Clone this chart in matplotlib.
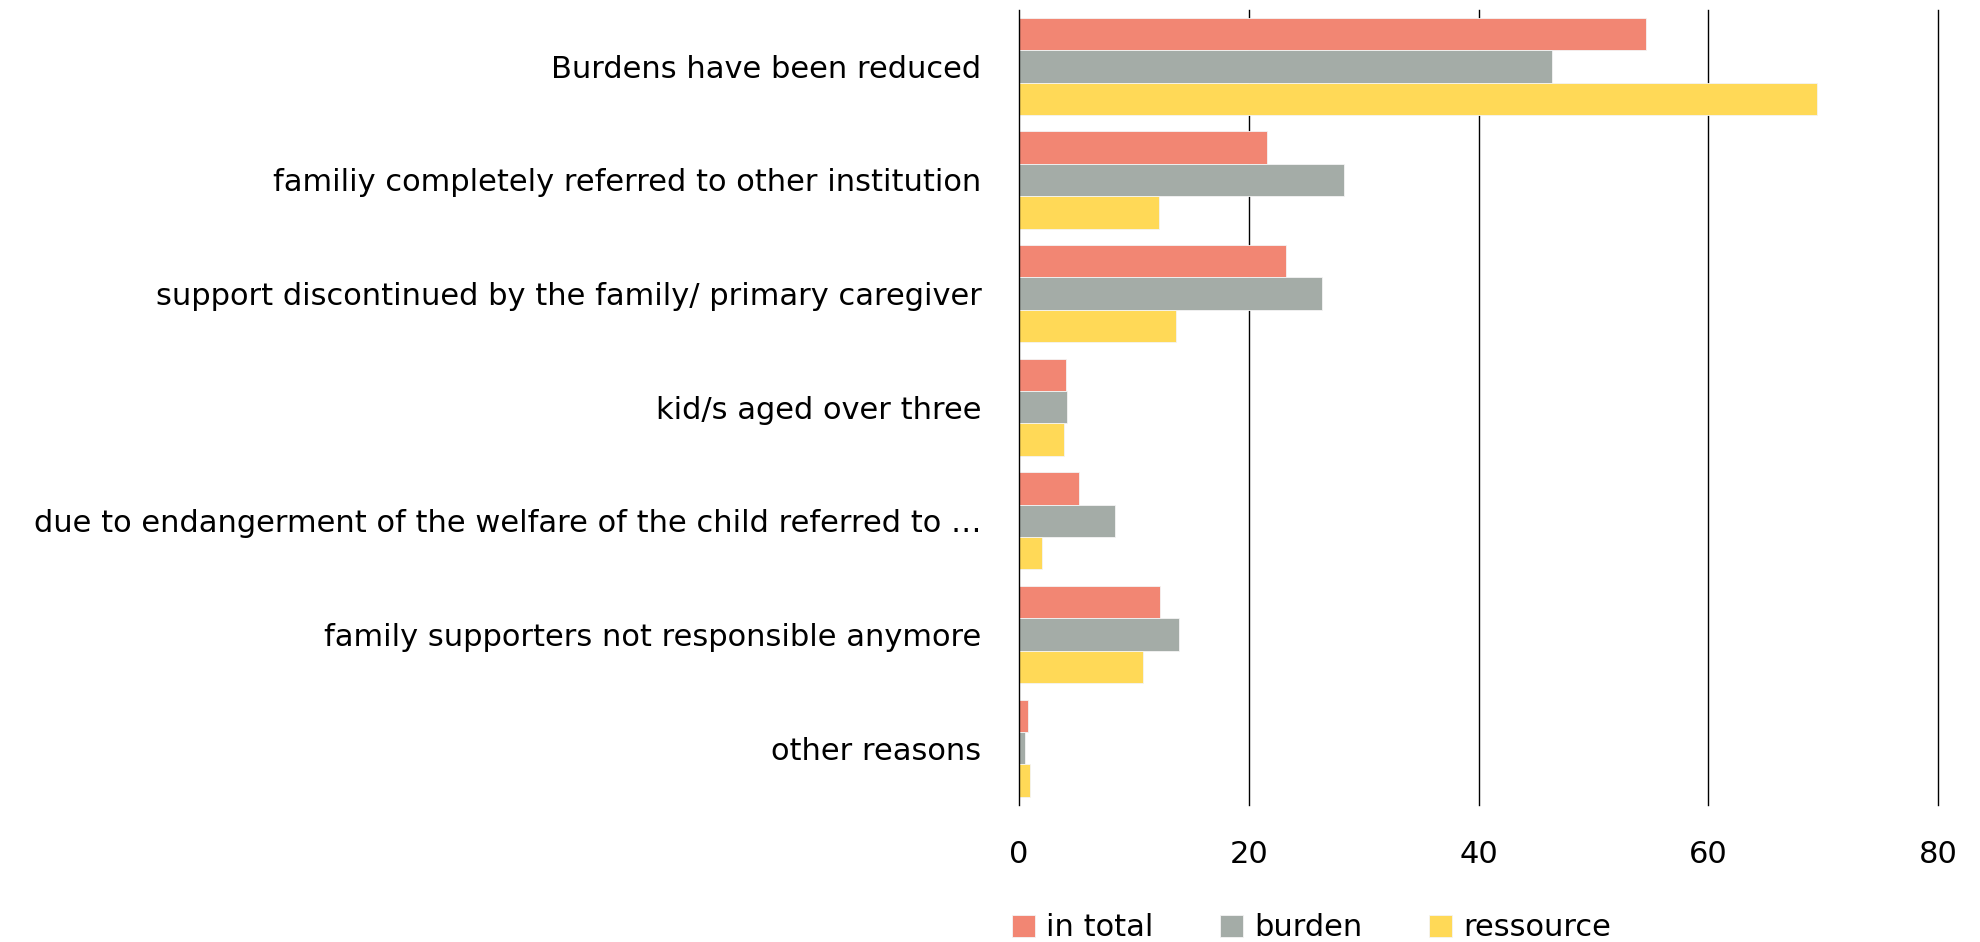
import matplotlib.pyplot as plt
import numpy as np

categories = [
    "Burdens have been reduced",
    "familiy completely referred to other institution",
    "support discontinued by the family/ primary caregiver",
    "kid/s aged over three",
    "due to endangerment of the welfare of the child referred to \u2026",
    "family supporters not responsible anymore",
    "other reasons",
]
in_total = [54.6, 21.6, 23.2, 4.1, 5.2, 12.3, 0.75]
burden = [46.4, 28.3, 26.4, 4.2, 8.4, 13.9, 0.5]
ressource = [69.5, 12.2, 13.7, 3.9, 2.0, 10.8, 1.0]
series_names = ["in total", "burden", "ressource"]
colors = ["#F28673", "#A4ACA7", "#FFD957"]
xticks = [0, 20, 40, 60, 80]

plt.rcParams['font.family'] = ['DejaVu Sans']
fs = 22

fig = plt.figure(figsize=(19.8, 9.42), dpi=100)
ax = fig.add_axes([1019 / 1980, 1 - 805 / 942, (1938 - 1019) / 1980, (805 - 9.5) / 942])

y = np.arange(len(categories))
h = 0.285
for i, (vals, name, c) in enumerate(zip([in_total, burden, ressource], series_names, colors)):
    ax.barh(y + (i - 1) * h, vals, height=h, color=c, label=name,
            edgecolor='#f4f4f4', linewidth=0.6, zorder=2)

ax.set_ylim(len(categories) - 0.5, -0.5)
ax.set_xlim(0, 80)
ax.set_yticks(y)
ax.set_yticklabels(categories, fontsize=fs)
ax.set_xticks(xticks)
ax.set_xticklabels([str(t) for t in xticks], fontsize=fs)
ax.tick_params(axis='y', length=0, pad=27)
ax.tick_params(axis='x', length=0, pad=25)
for s in ax.spines.values():
    s.set_visible(False)
for t in xticks:
    ax.axvline(t, color='black', linewidth=1.0, zorder=3 if t == 0 else 1, clip_on=False)

fig.legend(loc='center left', bbox_to_anchor=(1012 / 1980, 1 - 928 / 942), ncol=3,
           frameon=False, fontsize=fs, handlelength=0.75, handleheight=0.75,
           handletextpad=0.35, columnspacing=2.2, borderaxespad=0, borderpad=0)

fig.savefig('out.png', dpi=100)
